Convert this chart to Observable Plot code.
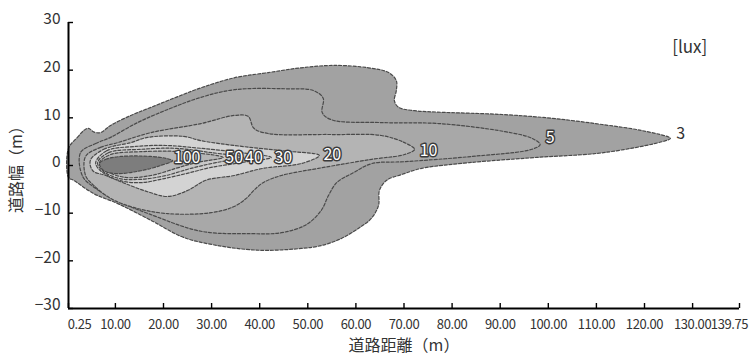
<!DOCTYPE html>
<html><head><meta charset="utf-8">
<script src="https://cdn.jsdelivr.net/npm/d3@7"></script>
<script src="https://cdn.jsdelivr.net/npm/@observablehq/plot@0.6"></script>
<style>
body{margin:0;background:#fff;}
g[aria-label="x-axis label"] text, g[aria-label="y-axis label"] text {font-size:16px;}
g[aria-label="x-axis tick label"] text {letter-spacing:-0.4px;}
</style>
</head><body><div id="chart"></div>
<script>
// Axis ticks
const xTicks = [0.25,10,20,30,40,50,60,70,80,90,100,110,120,130,139.75];
const yTicks = [-30,-20,-10,0,10,20,30];

// Iso-lux levels and band fills
const levels = [3,5,10,20,30,40,50,100];
const levelFills = ["#a2a2a2","#a8a8a8","#b4b4b4","#d3d3d3","#cecece","#c9c9c9","#b6b6b6","#7d7d7d"];

// Contour outlines [road distance (m), road width (m)]
const c3 = [[0.25,3.6],[2.1,5.9],[3.5,7.4],[4.4,7.8],[5.6,7.0],[6.9,6.9],[9.0,8.4],[13.2,10.5],[17.4,12.2],[22.6,14.3],[27.8,16.3],[34.7,18.4],[41.8,19.5],[48.6,20.5],[55.5,21.0],[62.6,20.5],[66.8,19.5],[68.4,17.8],[68.4,15.7],[68.0,13.6],[68.9,12.2],[72.2,11.5],[77.0,11.2],[90.4,10.7],[100.8,9.9],[111.2,8.6],[119.6,7.3],[125.4,5.7],
  [123.7,5.0],[111.5,2.7],[97.6,1.7],[83.6,0.6],[73.7,-0.6],[69.5,-1.9],[66.4,-3.1],[64.9,-5.2],[64.7,-8.4],[63.2,-11.1],[60.5,-13.2],[57.0,-15.3],[52.8,-16.8],[48.6,-17.4],[41.8,-17.8],[37.2,-17.6],[31.3,-16.8],[24.2,-15.1],[17.4,-11.5],[10.5,-8.0],[5.5,-5.9],[1.3,-3.1],[0.25,-2.5]];
const c5 = [[2.75,2.7],[5.9,4.6],[9.0,5.9],[14.6,9.0],[21.5,12.0],[27.8,14.3],[34.7,15.9],[45.1,16.1],[51.2,15.7],[53.2,14.1],[53.0,11.1],[54.9,9.6],[65.3,9.0],[77.2,8.8],[91.0,7.1],[96.6,5.7],[98.3,4.4],
  [96.6,3.4],[84.1,1.9],[70.1,0.8],[63.3,0.4],[59.5,-1.5],[56.0,-3.6],[54.3,-6.3],[52.8,-9.4],[49.7,-12.4],[44.5,-14.1],[38.2,-14.3],[27.8,-13.8],[17.4,-10.3],[10.1,-7.3],[5.9,-4.8],[3.2,-2.3]];
const c10 = [[3.8,1.9],[6.9,3.8],[10.5,4.8],[17.4,6.9],[27.8,8.8],[34.7,10.5],[37.6,10.3],[38.8,7.8],[41.8,6.7],[54.9,6.5],[65.3,6.3],[70.1,4.8],[72.2,3.4],
  [70.1,2.3],[63.3,1.3],[52.2,-0.6],[44.5,-2.1],[40.7,-3.6],[38.8,-5.2],[37.2,-6.9],[34.7,-8.6],[29.9,-9.9],[20.9,-10.1],[13.8,-8.8],[9.0,-6.9],[5.3,-4.0],[3.8,-2.1]];
const c20 = [[4.8,1.1],[7.6,3.4],[13.2,4.8],[16.7,5.9],[24.2,6.1],[27.8,5.2],[34.7,4.2],[44.5,3.1],[52.4,2.1],
  [48.6,0.4],[40.7,-0.6],[34.7,-2.1],[28.8,-3.1],[25.1,-5.2],[20.9,-6.5],[16.7,-5.5],[12.1,-3.8],[8.0,-2.1],[5.3,-1.1]];
const c30 = [[5.9,0.6],[8.2,3.1],[14.2,4.0],[20.5,4.2],[27.8,3.6],[36.1,2.7],[42.4,1.7],
  [36.1,0.6],[29.9,-0.4],[24.7,-1.7],[19.4,-2.9],[15.3,-3.6],[10.7,-3.1],[6.9,-1.1]];
const c40 = [[6.3,0.6],[8.6,2.7],[15.3,3.4],[22.6,3.6],[29.9,2.7],[36.6,1.7],
  [30.9,0.6],[25.7,-0.6],[20.5,-2.1],[15.3,-2.9],[10.7,-2.7],[7.3,-1.1]];
const c50 = [[6.7,0.6],[9.0,2.3],[15.3,2.9],[23.6,2.9],[32.4,1.7],
  [26.7,0.6],[22.6,-0.6],[17.4,-2.1],[12.1,-2.5],[8.0,-1.1]];
const c100 = [[6.7,0.4],[8.0,1.3],[11.1,1.9],[17.4,1.9],[20.5,1.5],[21.9,1.0],
  [19.4,0],[15.3,-1.1],[10.1,-1.7],[7.6,-1.1]];

// Contour labels
const labelText = ["100","50","40","30","20","10","5"];
const labelX = [24.9,34.7,38.8,44.9,55.1,75.1,100.4];
const labelY = [1.7,1.7,1.7,1.7,2.3,3.1,5.9];
const outerLabel = ["3"];
const outerLabelX = [127.5];
const outerLabelY = [6.7];
const unitText = ["[lux]"];
const unitX = [129.4];
const unitY = [24.7];

const contours = [c3,c5,c10,c20,c30,c40,c50,c100];
const xTickLen = 1.04, yTickLen = 1.05;
const fmt = d => d.toFixed(2);

const chart = Plot.plot({
  width: 756, height: 354,
  marginLeft: 68, marginRight: 17, marginTop: 22, marginBottom: 46,
  x: {domain: [xTicks[0], xTicks[xTicks.length-1]]},
  y: {domain: [yTicks[0], yTicks[yTicks.length-1]]},
  style: {fontFamily: "'Noto Sans CJK JP', 'Noto Sans', sans-serif", color: "#333", background: "white"},
  marks: [
    ...contours.map((c, i) => Plot.line(c, {
      x: d => d[0], y: d => d[1], curve: "catmull-rom-closed",
      fill: levelFills[i], stroke: "#4a4a4a", strokeWidth: 1.2, strokeDasharray: "3,1.8"
    })),
    Plot.text(labelText, {x: (d,i) => labelX[i], y: (d,i) => labelY[i], text: d => d,
      fill: "#3a3a3a", stroke: "#3a3a3a", strokeWidth: 2.8, fontSize: 16}),
    Plot.text(labelText, {x: (d,i) => labelX[i], y: (d,i) => labelY[i], text: d => d,
      fill: "white", fontSize: 16}),
    Plot.text(outerLabel, {x: (d,i) => outerLabelX[i], y: (d,i) => outerLabelY[i], text: d => d,
      fill: "#333", fontSize: 16}),
    Plot.text(unitText, {x: (d,i) => unitX[i], y: (d,i) => unitY[i], text: d => d,
      fill: "#333", fontSize: 17}),
    // tick labels
    Plot.axisX(xTicks.slice(0,1), {tickSize: 0, tickPadding: 11, tickFormat: fmt, fontSize: 13, dx: 11, label: null}),
    Plot.axisX(xTicks.slice(1,-1), {tickSize: 0, tickPadding: 11, tickFormat: fmt, fontSize: 13,
      label: "道路距離（m）", labelAnchor: "center", labelOffset: 42, labelArrow: "none"}),
    Plot.axisX(xTicks.slice(-1), {tickSize: 0, tickPadding: 11, tickFormat: fmt, fontSize: 13, dx: -10, label: null}),
    Plot.axisY(yTicks, {tickSize: 0, tickPadding: 8, fontSize: 15.5, dy: -3,
      label: "道路幅（m）", labelAnchor: "center", labelOffset: 58, labelArrow: "none"}),
    // inward ticks
    Plot.ruleX(xTicks, {x: d => d, y1: yTicks[0], y2: yTicks[0] + yTickLen, stroke: "#000", strokeWidth: 1.4}),
    Plot.ruleY(yTicks, {y: d => d, x1: xTicks[0], x2: xTicks[0] + xTickLen, stroke: "#000", strokeWidth: 1.4}),
    // axis lines
    Plot.ruleX([xTicks[0]], {stroke: "#000", strokeWidth: 2}),
    Plot.ruleY([yTicks[0]], {stroke: "#000", strokeWidth: 2})
  ]
});
document.getElementById("chart").append(chart);
</script></body></html>
